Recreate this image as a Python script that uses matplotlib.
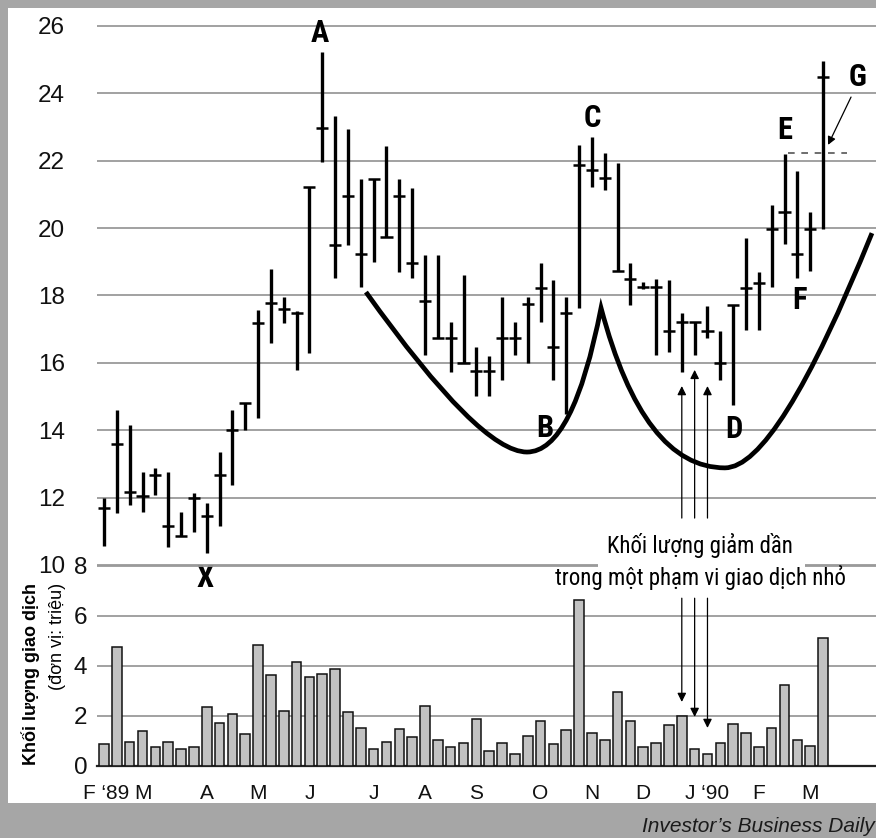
import matplotlib
matplotlib.use('Agg')
import matplotlib.pyplot as plt
import matplotlib.font_manager as fm
from matplotlib.path import Path
from matplotlib.patches import PathPatch, Rectangle
import numpy as np

# ---------------- data ----------------
high = [12.0, 14.6, 14.15, 12.77, 12.87, 12.77, 11.58, 12.14, 11.83, 13.36,
        14.6, 14.8, 17.57, 18.78, 17.96, 17.55, 21.23, 25.22, 23.33, 22.94,
        21.46, 21.46, 22.45, 21.46, 21.2, 19.2, 19.2, 17.22, 18.61, 16.46,
        16.21, 17.96, 17.22, 17.96, 18.95, 18.46, 17.94, 22.47, 22.7, 22.22,
        21.94, 18.97, 18.4, 18.48, 18.46, 17.47, 17.22, 17.69, 16.94, 17.72,
        19.7, 18.71, 20.69, 22.2, 21.7, 20.47, 24.97]
low = [10.55, 11.55, 11.78, 11.58, 12.08, 10.54, 10.87, 10.97, 10.36, 11.15,
       12.37, 14.0, 14.37, 16.58, 17.17, 15.79, 16.28, 21.97, 18.51, 19.5,
       18.26, 18.98, 19.74, 18.71, 18.51, 16.23, 16.73, 15.74, 16.0, 15.0,
       15.0, 15.49, 16.23, 15.98, 17.22, 15.49, 14.47, 17.62, 21.23, 21.13,
       18.73, 17.72, 18.2, 16.23, 16.33, 15.74, 16.23, 16.73, 15.49, 14.75,
       16.97, 16.97, 18.24, 19.53, 18.51, 18.73, 19.97]
close = [11.7, 13.6, 12.17, 12.05, 12.67, 11.15, 10.87, 12.0, 11.45, 12.67,
         14.0, 14.8, 17.17, 17.77, 17.59, 17.47, 21.23, 22.96, 19.5, 20.95,
         19.22, 21.46, 19.74, 20.96, 18.97, 17.84, 16.73, 16.73, 16.0, 15.77,
         15.77, 16.73, 16.73, 17.75, 18.21, 16.46, 17.49, 21.87, 21.72, 21.48,
         18.73, 18.49, 18.25, 18.24, 16.95, 17.22, 17.22, 16.95, 16.0, 17.72,
         18.23, 18.36, 19.97, 20.49, 19.23, 19.97, 24.5]
volume = [0.87, 4.76, 0.96, 1.4, 0.73, 0.93, 0.67, 0.73, 2.33, 1.72,
          2.07, 1.25, 4.81, 3.63, 2.19, 4.13, 3.55, 3.67, 3.88, 2.16,
          1.52, 0.65, 0.96, 1.47, 1.15, 2.39, 1.03, 0.73, 0.89, 1.85,
          0.6, 0.89, 0.47, 1.19, 1.8, 0.87, 1.43, 6.63, 1.32, 1.03,
          2.93, 1.79, 0.73, 0.92, 1.63, 1.99, 0.65, 0.48, 0.89, 1.67,
          1.31, 0.75, 1.52, 3.23, 1.03, 0.79, 5.12]
weeks = np.arange(len(close))

month_labels = ["F \u201889", "M", "A", "M", "J", "J", "A", "S", "O", "N",
                "D", "J \u201890", "F", "M"]
month_weeks = [0.2, 3, 8, 12, 16, 21, 25, 29, 34, 38, 42, 47, 51, 55]

price_ticks = [10, 12, 14, 16, 18, 20, 22, 24, 26]
vol_ticks = [0, 2, 4, 6, 8]

# cup outline control points (week index, price) - quadratic Bezier segments
cup_x = [20.4, 29.28, 32.94, 36.53, 38.71, 42.0, 48.36, 52.41, 59.81]
cup_y = [18.1, 13.35, 13.35, 13.35, 17.63, 12.88, 12.88, 12.88, 19.85]

letters = ["A", "B", "C", "D", "E", "F", "G", "X"]
letter_x = [16.82, 34.35, 38.0, 49.07, 53.04, 54.2, 58.72, 7.87]
letter_y = [25.78, 14.06, 23.27, 14.03, 22.91, 17.86, 24.49, 9.61]

arrow_weeks = [45, 46, 47]
up_tip = [15.31, 15.79, 15.31]
up_start = 11.39
down_tip = [2.55, 1.95, 1.51]
down_start = 6.7

pivot_level = 22.24
pivot_span = [53.27, 57.87]

# ---------------- fonts ----------------
avail = {f.name for f in fm.fontManager.ttflist}
NARROW = next((n for n in ['Roboto Condensed', 'Liberation Sans Narrow',
                           'DejaVu Sans Condensed', 'Open Sans Condensed']
               if n in avail), 'Liberation Sans')
plt.rcParams['font.family'] = ['Liberation Sans', 'DejaVu Sans']

# ---------------- layout ----------------
W, H = 876, 838
fig = plt.figure(figsize=(W / 100, H / 100), dpi=100, facecolor='#a6a6a6')


def fx(px):
    return px / W


def fy(py):
    return 1 - py / H


fig.add_artist(Rectangle((fx(8), fy(803)), fx(W - 8), (803 - 8) / H,
                         transform=fig.transFigure, facecolor='white',
                         edgecolor='none', zorder=-5))

ppu = 33.68
xpu = 12.84
xlim = ((97 - 104) / xpu, (876 - 104) / xpu)

ax1 = fig.add_axes([fx(97), fy(572), fx(876 - 97), (572 - 15) / H])
ax1.set_ylim(26 - (572 - 26) / ppu, 26 + 11 / ppu)
ax2 = fig.add_axes([fx(97), fy(765.7), fx(876 - 97), (765.7 - 558) / H])
ax2.set_ylim(0, (765.7 - 558) / 25)

GRID = '#9a9a9a'
for ax in (ax1, ax2):
    ax.set_facecolor('none')
    ax.set_xlim(*xlim)
    for s in ax.spines.values():
        s.set_visible(False)
    ax.tick_params(length=0, colors='#111111')
    ax.set_axisbelow(True)
    ax.yaxis.grid(True, color=GRID, lw=1.3)

ax1.set_xticks([])
ax1.set_yticks(price_ticks)
ax1.set_yticklabels([str(t) for t in price_ticks])
ax1.tick_params(axis='y', pad=23, labelsize=17.5)

ax2.set_yticks(vol_ticks)
ax2.set_yticklabels([str(t) for t in vol_ticks])
ax2.tick_params(axis='y', pad=7, labelsize=17.5)
ax2.set_xticks(month_weeks)
ax2.set_xticklabels(month_labels)
ax2.tick_params(axis='x', pad=13, labelsize=15)
ax2.spines['bottom'].set_visible(True)
ax2.spines['bottom'].set_linewidth(1.6)
ax2.spines['bottom'].set_color('#222222')

# price bars
ax1.vlines(weeks, low, high, color='black', lw=2.4, zorder=3)
ax1.hlines(close, weeks - 0.47, weeks + 0.47, color='black', lw=1.8, zorder=3)

# volume bars
ax2.bar(weeks, volume, width=0.75, color='#c2c2c2', edgecolor='#111111',
        linewidth=1.1, zorder=3)

# cup outline
verts = list(zip(cup_x, cup_y))
codes = [Path.MOVETO] + [Path.CURVE3] * (len(verts) - 1)
ax1.add_patch(PathPatch(Path(verts, codes), facecolor='none', edgecolor='black',
                        lw=3.4, joinstyle='miter', capstyle='butt',
                        zorder=4, clip_on=False))

# letters
for s, x, y in zip(letters, letter_x, letter_y):
    ax1.text(x, y, s, ha='center', va='center', fontsize=22,
             fontweight='bold', family=NARROW, zorder=6, clip_on=False)

# pivot dashed line and G arrow
ax1.hlines(pivot_level, pivot_span[0], pivot_span[1], color='#555555',
           lw=1.2, linestyles=(0, (4, 4)), zorder=5)
ax1.annotate('', xy=(56.39, 22.47), xytext=(58.18, 23.89),
             arrowprops=dict(arrowstyle='-|>', lw=0.9, color='black',
                             mutation_scale=12, shrinkA=0, shrinkB=0))

# arrows for declining volume
for w, ut, dt in zip(arrow_weeks, up_tip, down_tip):
    ax1.annotate('', xy=(w, ut), xytext=(w, up_start),
                 arrowprops=dict(arrowstyle='-|>', lw=0.9, color='black',
                                 mutation_scale=13, shrinkA=0, shrinkB=0))
    ax2.annotate('', xy=(w, dt), xytext=(w, down_start),
                 arrowprops=dict(arrowstyle='-|>', lw=0.9, color='black',
                                 mutation_scale=13, shrinkA=0, shrinkB=0),
                 annotation_clip=False)

ax2.add_patch(Rectangle(((598 - 104) / xpu, 7.75), (805 - 598) / xpu, 0.5,
                        facecolor='white', edgecolor='none', zorder=2,
                        clip_on=False))
ax1.text((700 - 104) / xpu, 26 - (545 - 26) / ppu, 'Khối lượng giảm dần',
         ha='center', va='center', fontsize=16.5, family=NARROW, zorder=6)
ax2.text((700 - 104) / xpu, (765.7 - 578) / 25,
         'trong một phạm vi giao dịch nhỏ', ha='center', va='center',
         fontsize=16.5, family=NARROW, zorder=6)

# y-axis title
fig.text(fx(31), fy(583), 'Khối lượng giao dịch', rotation=90, ha='center',
         va='top', fontsize=13, fontweight='bold')
fig.text(fx(57), fy(583), '(đơn vị: triệu)', rotation=90, ha='center',
         va='top', fontsize=13)

# source credit
fig.text(fx(642), fy(826), "Investor\u2019s Business Daily", ha='left',
         va='center', fontsize=15, style='italic', color='#1a1a1a')

fig.savefig('out.png', dpi=100, facecolor=fig.get_facecolor())
